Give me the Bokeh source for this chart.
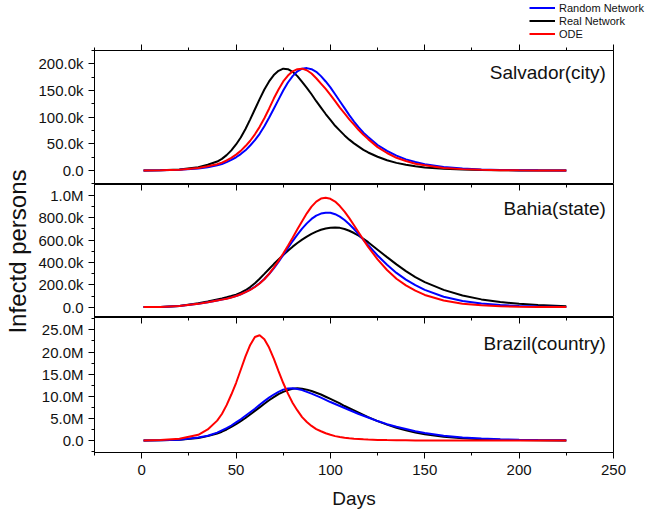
import numpy as np
from bokeh.plotting import figure
from bokeh.layouts import column, row
from bokeh.models import (Range1d, FixedTicker, LinearAxis, CustomJSTickFormatter,
                          Label, Legend, LegendItem)
from bokeh.embed import file_html
from bokeh.resources import INLINE

# ---------------- data ----------------
days = [1, 10, 20, 30, 35,
        40, 42.5, 45, 47.5, 50, 52.5, 55, 57.5, 60, 62.5, 65, 67.5, 70, 72.5, 75, 77.5,
        80, 82.5, 85, 87.5, 90, 92.5, 95, 97.5, 100, 102.5, 105, 107.5, 110, 112.5, 115, 117.5, 120,
        125, 130, 135, 140, 145, 150,
        160, 170, 180, 190, 200, 210, 225]

# Salvador (city), thousands of persons
salvador_random_k = [0.3, 0.6, 1.5, 4, 6.5,
                     10, 12.5, 16, 20, 25, 31, 38, 47, 57, 69, 83, 99, 116, 133, 150, 165,
                     177, 186, 191, 192, 190, 185, 177, 167, 156, 143, 130, 117, 104, 92, 81, 71, 63,
                     48, 37, 28, 21, 16, 12,
                     7, 4, 2.3, 1.3, 0.8, 0.5, 0.2]
salvador_real_k = [0.3, 0.8, 2.2, 6.5, 11,
                   17, 22, 29, 38, 49, 62, 78, 96, 115, 134, 152, 167, 179, 187, 191, 190,
                   185, 177, 166, 155, 143, 130, 118, 106, 95, 84, 75, 66, 58, 51, 45, 39, 34,
                   26, 19.5, 14.5, 11, 8, 6,
                   3.5, 2, 1.2, 0.7, 0.4, 0.2, 0.1]
salvador_ode_k = [0.3, 0.7, 1.8, 5, 8,
                  12, 15, 19, 24, 30, 37, 46, 56, 68, 82, 98, 116, 135, 152, 167, 178,
                  186, 190, 191, 188, 182, 173, 163, 153, 142, 130, 118, 107, 96, 86, 76, 67, 59,
                  44, 33, 24, 18, 13, 10,
                  5, 2.8, 1.5, 0.8, 0.5, 0.3, 0.1]

# Bahia (state), thousands of persons
bahia_random_k = [1, 3, 10, 30, 44,
                  60, 68, 77, 88, 100, 116, 135, 157, 183, 214, 252, 297, 348, 405, 467, 530,
                  592, 650, 703, 750, 790, 820, 838, 846, 845, 832, 810, 780, 743, 700, 652, 603, 555,
                  463, 380, 307, 247, 197, 155,
                  94, 56, 33, 19, 11, 6, 2]
bahia_real_k = [1, 3, 12, 36, 52,
                70, 79, 89, 100, 113, 130, 152, 180, 215, 255, 298, 342, 386, 428, 468, 506,
                542, 575, 605, 632, 656, 676, 693, 705, 712, 714, 710, 700, 684, 664, 640, 612, 582,
                515, 448, 383, 323, 270, 225,
                155, 105, 70, 46, 30, 19, 9]
bahia_ode_k = [1, 3, 10, 30, 44,
               60, 68, 76, 87, 100, 116, 135, 156, 181, 212, 250, 298, 355, 415, 480, 550,
               622, 697, 770, 840, 900, 945, 972, 979, 970, 945, 905, 855, 797, 733, 668, 603, 540,
               428, 333, 255, 195, 148, 110,
               60, 32, 17, 9, 5, 3, 1]

# Brazil (country), millions of persons
brazil_random_m = [0.01, 0.05, 0.2, 0.7, 1.1,
                   1.8, 2.3, 2.8, 3.4, 4.1, 4.8, 5.6, 6.4, 7.2, 8.1, 8.9, 9.7, 10.4, 11.0, 11.5, 11.75,
                   11.8, 11.65, 11.4, 11.0, 10.6, 10.15, 9.7, 9.2, 8.7, 8.25, 7.8, 7.35, 6.9, 6.45, 6.0, 5.6, 5.2,
                   4.4, 3.7, 3.1, 2.6, 2.1, 1.7,
                   1.1, 0.7, 0.45, 0.28, 0.17, 0.1, 0.05]
brazil_real_m = [0.01, 0.05, 0.2, 0.6, 1.0,
                 1.6, 2.0, 2.5, 3.1, 3.7, 4.4, 5.1, 5.9, 6.7, 7.5, 8.3, 9.1, 9.8, 10.5, 11.0, 11.4,
                 11.7, 11.8, 11.7, 11.5, 11.2, 10.8, 10.4, 9.9, 9.4, 8.9, 8.4, 7.8, 7.3, 6.8, 6.3, 5.8, 5.3,
                 4.4, 3.6, 2.9, 2.3, 1.8, 1.4,
                 0.85, 0.5, 0.3, 0.18, 0.1, 0.06, 0.03]
brazil_ode_m = [0.02, 0.1, 0.4, 1.3, 2.5,
                4.5, 6.0, 8.0, 10.4, 13.0, 16.0, 19.0, 21.6, 23.4, 23.8, 22.9, 21.0, 18.5, 15.7, 13.0, 10.6,
                8.5, 6.8, 5.3, 4.2, 3.3, 2.6, 2.1, 1.65, 1.3, 1.0, 0.8, 0.63, 0.5, 0.42, 0.35, 0.28, 0.22,
                0.15, 0.1, 0.07, 0.05, 0.03, 0.02,
                0.01, 0, 0, 0, 0, 0, 0]

x_major = [0, 50, 100, 150, 200, 250]
x_minor = [-25, 25, 75, 125, 175, 225]
salv_major = [0, 50000, 100000, 150000, 200000]
salv_minor = [-25000, 25000, 75000, 125000, 175000, 225000]
bahia_major = [0, 200000, 400000, 600000, 800000, 1000000]
bahia_minor = [-100000, 100000, 300000, 500000, 700000, 900000, 1100000]
brazil_major = [0, 5e6, 10e6, 15e6, 20e6, 25e6]
brazil_minor = [-2.5e6, 2.5e6, 7.5e6, 12.5e6, 17.5e6, 22.5e6, 27.5e6]

titles = ["Salvador(city)", "Bahia(state)", "Brazil(country)"]
series_names = ["Random Network", "Real Network", "ODE"]
y_title = "Infectd persons"
x_title = "Days"

# ---------------- styling ----------------
FONT = "Liberation Sans"
TXT = "#111111"
BLUE, BLACK, RED = "#0000FF", "#000000", "#FF0000"
FRAME_W = 519
H1, H2, H3 = 134, 133, 135
LABEL_W = 32
LEFT, RIGHT = 62, 32
TOP1, BOT3 = 6, 61
LEG_H = 44
PAGE_W = 650

x_range = Range1d(-25, 250)

fmt = CustomJSTickFormatter(code="""
if (tick == 0) return "0.0";
const a = Math.abs(tick);
if (a >= 1e6) return (tick / 1e6).toFixed(1) + "M";
if (a >= 1e3) return (tick / 1e3).toFixed(1) + "k";
return tick.toFixed(1);
""")


def bare(fw, fh, xr, yr):
    p = figure(frame_width=fw, frame_height=fh, x_range=xr, y_range=yr,
               output_backend="svg", toolbar_location=None,
               x_axis_location=None, y_axis_location=None,
               min_border_left=0, min_border_right=0, min_border_top=0, min_border_bottom=0)
    p.xgrid.visible = False
    p.ygrid.visible = False
    p.outline_line_color = None
    return p


def make_panel(fh, y_range, ymaj, ymin, top_b, bot_b):
    p = figure(frame_width=FRAME_W, frame_height=fh, x_range=x_range, y_range=y_range,
               output_backend="svg", toolbar_location=None,
               x_axis_location=None, y_axis_location="left",
               min_border_left=LEFT, min_border_right=RIGHT,
               min_border_top=top_b, min_border_bottom=bot_b)
    p.xgrid.visible = False
    p.ygrid.visible = False
    p.outline_line_color = "black"
    p.outline_line_width = 1
    p.outline_line_alpha = 1
    ya = p.yaxis[0]
    ya.ticker = FixedTicker(ticks=ymaj, minor_ticks=ymin)
    ya.formatter = fmt
    ya.major_tick_out = 6
    ya.major_tick_in = 0
    ya.minor_tick_out = 3
    ya.minor_tick_in = 0
    ya.axis_line_color = "black"
    ya.major_tick_line_color = "black"
    ya.minor_tick_line_color = "black"
    ya.major_label_text_font = FONT
    ya.major_label_text_font_size = "15px"
    ya.major_label_text_color = TXT
    ya.major_label_standoff = 5
    return p


def add_top_axis(p, outward):
    ax = LinearAxis(ticker=FixedTicker(ticks=x_major, minor_ticks=x_minor),
                    major_label_text_font_size="0px", major_label_text_color=None,
                    major_label_standoff=0,
                    axis_line_color="black", major_tick_line_color="black",
                    minor_tick_line_color="black")
    if outward:
        ax.major_tick_out, ax.major_tick_in = 6, 0
        ax.minor_tick_out, ax.minor_tick_in = 3, 0
    else:
        ax.major_tick_out, ax.major_tick_in = 0, 6
        ax.minor_tick_out, ax.minor_tick_in = 0, 3
    p.add_layout(ax, "above")


def draw(p, rnd, real, ode, scale):
    r_real = p.line(days, np.array(real) * scale, line_color=BLACK, line_width=2)
    r_rnd = p.line(days, np.array(rnd) * scale, line_color=BLUE, line_width=2)
    r_ode = p.line(days, np.array(ode) * scale, line_color=RED, line_width=2)
    return r_rnd, r_real, r_ode


def add_title(p, text, y):
    p.add_layout(Label(x=246, y=y, text=text, text_align="right", text_baseline="middle",
                       text_font=FONT, text_font_size="19px", text_color=TXT))


# legend strip (top right, above the first panel)
p0 = bare(PAGE_W, LEG_H, Range1d(0, 1), Range1d(0, 1))
lr = [p0.line([5, 6], [5, 6], line_color=c, line_width=2) for c in (BLUE, BLACK, RED)]
legend = Legend(items=[LegendItem(label=n, renderers=[r]) for n, r in zip(series_names, lr)],
                location=(529, 4), orientation="vertical",
                border_line_color=None, background_fill_alpha=0,
                label_text_font=FONT, label_text_font_size="11px", label_text_color=TXT,
                glyph_width=26, glyph_height=13, label_height=13, label_standoff=4,
                spacing=0, padding=0, margin=0)
p0.add_layout(legend)

# y-axis title strip (spans the three panels)
HL = TOP1 + H1 + H2 + H3 + BOT3
pl = bare(LABEL_W, HL, Range1d(0, LABEL_W), Range1d(0, HL))
pl.add_layout(Label(x=17, y=BOT3 + (H1 + H2 + H3) / 2, text=y_title, angle=90, angle_units="deg",
                    text_align="center", text_baseline="middle",
                    text_font=FONT, text_font_size="24px", text_color=TXT))

# panel 1: Salvador
p1 = make_panel(H1, Range1d(-26000, 225000), salv_major, salv_minor, TOP1, 0)
add_top_axis(p1, True)
draw(p1, salvador_random_k, salvador_real_k, salvador_ode_k, 1e3)
add_title(p1, titles[0], 184000)

# panel 2: Bahia
p2 = make_panel(H2, Range1d(-92000, 1098000), bahia_major, bahia_minor, 0, 0)
add_top_axis(p2, False)
draw(p2, bahia_random_k, bahia_real_k, bahia_ode_k, 1e3)
add_title(p2, titles[1], 883000)

# panel 3: Brazil
p3 = make_panel(H3, Range1d(-2.7e6, 27.8e6), brazil_major, brazil_minor, 0, BOT3)
add_top_axis(p3, False)
draw(p3, brazil_random_m, brazil_real_m, brazil_ode_m, 1e6)
add_title(p3, titles[2], 21.9e6)
xa = LinearAxis(ticker=FixedTicker(ticks=x_major, minor_ticks=x_minor),
                axis_label=x_title, axis_label_text_font=FONT, axis_label_text_font_size="19px",
                axis_label_text_font_style="normal", axis_label_text_color=TXT,
                axis_label_standoff=10,
                major_label_text_font=FONT, major_label_text_font_size="15px",
                major_label_text_color=TXT, major_label_standoff=6,
                major_tick_out=6, major_tick_in=0, minor_tick_out=3, minor_tick_in=0,
                axis_line_color="black")
p3.add_layout(xa, "below")

layout = column(p0, row(pl, column(p1, p2, p3, spacing=0), spacing=0), spacing=0)
open("out.html", "w").write(file_html(layout, INLINE))
